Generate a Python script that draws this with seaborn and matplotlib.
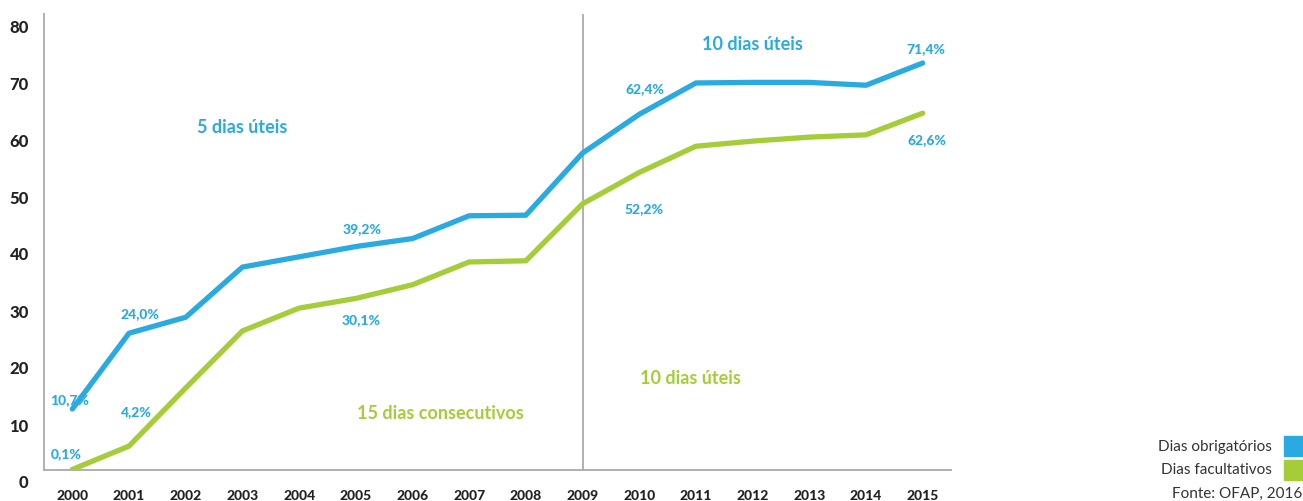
import numpy as np
import pandas as pd
import seaborn as sns
import matplotlib.pyplot as plt
from matplotlib.transforms import ScaledTranslation
from matplotlib.patches import Rectangle

# dados
anos = ['2000', '2001', '2002', '2003', '2004', '2005', '2006', '2007',
        '2008', '2009', '2010', '2011', '2012', '2013', '2014', '2015']
obrigatorios = [10.7, 24.0, 26.8, 35.6, 37.4, 39.2, 40.6, 44.6,
                44.7, 55.6, 62.4, 67.9, 68.0, 68.0, 67.5, 71.4]
facultativos = [0.1, 4.2, 14.4, 24.4, 28.4, 30.1, 32.5, 36.5,
                36.7, 46.7, 52.2, 56.8, 57.7, 58.4, 58.8, 62.6]
y_ticks = [0, 10, 20, 30, 40, 50, 60, 70, 80]

# rótulos de valores: texto e posição (índice do ano, altura) onde aparecem
rotulos = ['10,7%', '24,0%', '39,2%', '62,4%', '71,4%',
           '0,1%', '4,2%', '30,1%', '52,2%', '62,6%']
rot_x = [-0.05, 1.2, 5.12, 10.1, 15.05, -0.1, 1.12, 5.1, 10.08, 15.08]
rot_y = [12.5, 27.5, 42.5, 67.0, 74.0, 3.0, 10.4, 26.5, 46.0, 58.0]

azul = '#29abe2'
verde = '#a5cd39'
cinza = '#b0b0b0'
escuro = '#222222'

df = pd.DataFrame({
    'idx': list(range(len(anos))) * 2,
    'valor': obrigatorios + facultativos,
    'serie': ['Dias obrigatórios'] * len(anos) + ['Dias facultativos'] * len(anos),
})

sns.set_style('white')
plt.rcParams['font.family'] = ['Lato', 'DejaVu Sans']

fig = plt.figure(figsize=(13.03, 5.02), dpi=100)
ax = fig.add_axes([44 / 1303, 1 - 471 / 502, (951 - 44) / 1303, (471 - 15) / 502])

sns.lineplot(data=df, x='idx', y='valor', hue='serie',
             palette={'Dias obrigatórios': azul, 'Dias facultativos': verde},
             linewidth=3.8, legend=False, ax=ax, solid_capstyle='round')

ax.axvline(9, color=cinza, lw=1.4, zorder=0)

ax.set_xlim(-0.5, 15.5)
ax.set_ylim(0, 80)
ax.set_xlabel('')
ax.set_ylabel('')

for s in ['top', 'right']:
    ax.spines[s].set_visible(False)
for s in ['left', 'bottom']:
    ax.spines[s].set_color(cinza)
    ax.spines[s].set_linewidth(1.4)

# eixo x: marcas entre os anos, rótulos nos anos
ax.set_xticks(range(len(anos)))
ax.set_xticklabels(anos, fontsize=10, fontweight='black', color=escuro)
ax.set_xticks(np.arange(-0.5, len(anos), 1), minor=True)
ax.tick_params(axis='x', which='major', length=0, pad=14)
ax.tick_params(axis='x', which='minor', direction='in', length=7.5,
               width=1.4, color=cinza)

# eixo y
ax.set_yticks(y_ticks)
ax.set_yticklabels([str(v) for v in y_ticks], fontsize=12, fontweight='black',
                   color=escuro)
ax.tick_params(axis='y', direction='in', length=16, width=1.4, color=cinza, pad=11)
for lab in ax.get_yticklabels():
    lab.set_transform(lab.get_transform() + ScaledTranslation(0, -11 / 100, fig.dpi_scale_trans))

# rótulos de valores
for x, y, t in zip(rot_x, rot_y, rotulos):
    ax.text(x, y, t, color=azul, fontsize=10, fontweight='black', ha='center', va='center')

# textos dos períodos
ax.text(3.0, 60.3, '5 dias úteis', color=azul, fontsize=13, fontweight='bold', ha='center', va='center')
ax.text(12.0, 74.9, '10 dias úteis', color=azul, fontsize=13, fontweight='bold', ha='center', va='center')
ax.text(10.9, 16.3, '10 dias úteis', color=verde, fontsize=13, fontweight='bold', ha='center', va='center')
ax.text(6.5, 10.1, '15 dias consecutivos', color=verde, fontsize=13, fontweight='bold', ha='center', va='center')

# legenda
fig.text(1272 / 1303, 1 - 447 / 502, 'Dias obrigatórios', ha='right', va='center',
         fontsize=11, color='#333333')
fig.text(1272 / 1303, 1 - 470 / 502, 'Dias facultativos', ha='right', va='center',
         fontsize=11, color='#333333')
fig.text(1302 / 1303, 1 - 494 / 502, 'Fonte: OFAP, 2016', ha='right', va='center',
         fontsize=11, color='#333333')
fig.patches.append(Rectangle((1284 / 1303, 1 - 457 / 502), 19 / 1303, 20 / 502,
                             transform=fig.transFigure, color=azul))
fig.patches.append(Rectangle((1284 / 1303, 1 - 481 / 502), 19 / 1303, 20 / 502,
                             transform=fig.transFigure, color=verde))

fig.savefig('out.png', dpi=100)
